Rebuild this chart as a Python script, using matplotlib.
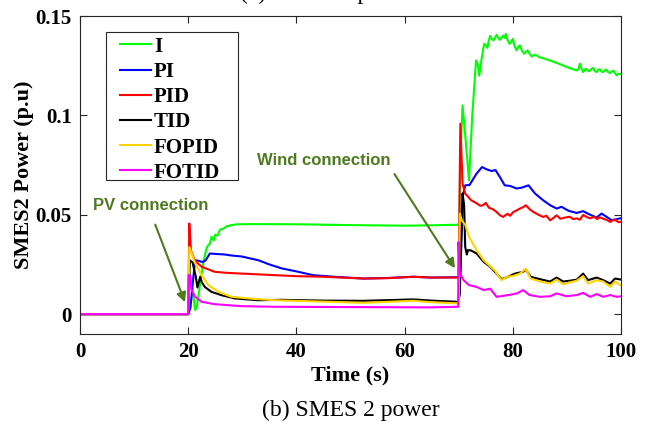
import numpy as np
import matplotlib.pyplot as plt
from matplotlib.patches import Rectangle

# SMES 2 power response for each controller (time in s, power in p.u)
t_i = [0, 20.0, 20.3, 20.8, 21.3, 21.6, 22.2, 22.8, 23.2, 23.5, 24.0, 24.3, 24.7, 25.0, 25.4, 25.9,
       26.5, 27.1, 28.0, 29.0, 32.0, 40, 50, 60, 65, 70.1, 70.4, 70.7, 71.2, 71.9, 72.5, 73.2, 73.5,
       73.8, 74.2, 74.7, 75.0, 75.3, 75.5, 75.8, 76.1, 76.4, 76.7, 77.0, 77.3, 77.6, 77.9, 78.2,
       78.5, 78.7, 79.0, 79.4, 79.7, 80.0, 80.3, 80.7, 81.0, 81.3, 81.7, 82.1, 82.4, 82.7, 83.1,
       83.5, 84.0, 84.4, 84.9, 85.3, 86.9, 88.5, 90.0, 91.8, 92.1, 92.4, 92.7, 93.0, 93.5, 94.0,
       94.3, 94.6, 94.9, 95.2, 95.5, 95.8, 96.1, 96.4, 96.7, 97.0, 97.3, 97.6, 98.0, 98.3, 98.6,
       98.9, 99.2, 99.5, 99.8, 100]
p_i = [0, 0, 0.02, 0.012, 0.002, 0.004, 0.015, 0.026, 0.031, 0.034, 0.0355, 0.039, 0.037, 0.040,
       0.0395, 0.0426, 0.043, 0.0442, 0.0448, 0.0452, 0.0453, 0.0452, 0.0448, 0.0445, 0.0447, 0.045,
       0.085, 0.105, 0.09, 0.0673, 0.10, 0.1276, 0.126, 0.120, 0.128, 0.136, 0.1355, 0.134, 0.137,
       0.140, 0.1385, 0.1377, 0.139, 0.1405, 0.139, 0.138, 0.139, 0.1402, 0.139, 0.141, 0.138,
       0.136, 0.137, 0.1385, 0.135, 0.1327, 0.1345, 0.1352, 0.1325, 0.1310, 0.132, 0.1327, 0.131,
       0.1296, 0.1305, 0.1302, 0.1292, 0.1290, 0.1276, 0.126, 0.1243, 0.1226, 0.1232, 0.126, 0.1235,
       0.1218, 0.1235, 0.1222, 0.1226, 0.1236, 0.1238, 0.1222, 0.1218, 0.1230, 0.1232, 0.1220,
       0.1218, 0.1228, 0.1230, 0.1218, 0.1213, 0.1222, 0.1225, 0.1212, 0.1201, 0.1210, 0.1209,
       0.121]

t_pi = [0, 20.0, 20.4, 21.0, 21.3, 22.0, 22.6, 23.2, 24.0, 25.0, 26.8, 28.0, 29.9, 31.5, 33.0, 35.0,
        37.3, 40.0, 43.1, 47, 52.4, 57, 61.6, 65, 70.0, 70.3, 70.8, 71.2, 72.0, 73.3, 74.3, 75.2,
        76.1, 76.8, 77.6, 78.5, 79.5, 80.7, 81.6, 82.9, 84.1, 85.6, 86.9, 88.1, 89.0, 90.3, 91.8,
        93.0, 94.3, 95.5, 96.4, 97.3, 98.3, 99.2, 100]
p_pi = [0, 0, 0.003, 0.02, 0.0271, 0.0268, 0.0262, 0.027, 0.0305, 0.0303, 0.030, 0.0295, 0.029,
        0.028, 0.0271, 0.025, 0.023, 0.0215, 0.0196, 0.0188, 0.0179, 0.0182, 0.0188, 0.0184, 0.0186,
        0.02, 0.06, 0.0648, 0.065, 0.0707, 0.074, 0.0728, 0.0720, 0.0725, 0.069, 0.0648, 0.0645,
        0.0632, 0.0636, 0.0648, 0.0607, 0.0573, 0.0548, 0.0531, 0.054, 0.052, 0.0509, 0.0518, 0.050,
        0.0486, 0.0506, 0.049, 0.0472, 0.0478, 0.0483]

t_pid = [0, 20.0, 20.2, 20.5, 21.2, 22.5, 24.9, 27, 29.9, 33, 36, 40, 45, 52.4, 57, 61.6, 65, 70.0,
         70.15, 70.3, 70.7, 71.2, 72.3, 73.4, 74.0, 74.5, 75.0, 75.6, 76.3, 77.0, 77.6, 78.2, 79.0,
         79.5, 80.1, 80.7, 81.3, 81.9, 82.4, 83.1, 83.8, 84.6, 85.6, 86.2, 86.9, 87.5, 88.1, 88.8,
         89.5, 90.5, 91.2, 91.8, 92.4, 93.0, 93.7, 94.3, 95.0, 95.6, 96.0, 96.7, 97.3, 98.0, 98.6,
         99.0, 99.6, 100]
p_pid = [0, 0, 0.0456, 0.032, 0.027, 0.0238, 0.0213, 0.0208, 0.0204, 0.0200, 0.0196, 0.0191,
         0.0188, 0.0179, 0.0181, 0.0188, 0.0184, 0.0184, 0.06, 0.0958, 0.0657, 0.0607, 0.0573,
         0.0556, 0.0545, 0.0548, 0.056, 0.0535, 0.0528, 0.0514, 0.0498, 0.0489, 0.0505, 0.0495,
         0.0514, 0.0522, 0.0531, 0.0538, 0.0548, 0.0528, 0.0514, 0.0502, 0.0489, 0.0495, 0.0472,
         0.0484, 0.0497, 0.0480, 0.0485, 0.049, 0.0478, 0.0482, 0.0475, 0.0499, 0.0488, 0.0482,
         0.049, 0.0478, 0.0488, 0.0480, 0.0475, 0.0464, 0.0475, 0.0472, 0.0462, 0.0465]

t_tid = [0, 20.0, 20.3, 20.8, 21.4, 21.7, 22.2, 22.5, 23.1, 24.3, 26.2, 28.6, 32.9, 37.3, 45, 52.4,
         61.6, 65, 69.9, 70.2, 70.5, 70.7, 71.0, 71.2, 71.5, 71.7, 72.3, 73.3, 74.6, 75.8, 77.0,
         77.9, 79.1, 80.4, 81.9, 82.4, 83.3, 85.0, 86.9, 88.1, 89.3, 90.5, 91.8, 93.0, 93.9, 95.5,
         96.7, 98.0, 98.9, 100]
p_tid = [0, 0, 0.0271, 0.026, 0.0188, 0.0134, 0.0188, 0.0161, 0.0136, 0.0112, 0.0095, 0.0079,
         0.0070, 0.0072, 0.0068, 0.0067, 0.0074, 0.0068, 0.0062, 0.01, 0.045, 0.0607, 0.055, 0.0338,
         0.030, 0.0322, 0.032, 0.0305, 0.0263, 0.0238, 0.0204, 0.0176, 0.0188, 0.0204, 0.0213,
         0.0224, 0.0188, 0.0176, 0.0164, 0.0184, 0.0164, 0.0168, 0.0173, 0.0204, 0.0171, 0.0184,
         0.0171, 0.0154, 0.0179, 0.0174]

t_fopid = [0, 20.0, 20.2, 21.3, 22.5, 23.7, 25.6, 28.0, 32, 36, 45, 52.4, 61.6, 65, 70.0, 70.2,
           70.6, 71.2, 71.9, 73.3, 74.6, 75.8, 76.7, 77.9, 78.9, 80.1, 81.3, 82.4, 83.3, 85.0,
           86.9, 88.1, 89.3, 90.5, 91.8, 93.0, 93.9, 95.5, 96.7, 98.0, 98.9, 100]
p_fopid = [0, 0, 0.0338, 0.0255, 0.0196, 0.0146, 0.0112, 0.0087, 0.0077, 0.0070, 0.0063, 0.0057,
           0.0067, 0.0060, 0.0054, 0.0506, 0.047, 0.045, 0.0389, 0.0322, 0.0271, 0.0241, 0.0218,
           0.0171, 0.0188, 0.0192, 0.0204, 0.0228, 0.0179, 0.0164, 0.0154, 0.0174, 0.0150, 0.0160,
           0.0168, 0.0191, 0.0154, 0.0171, 0.0164, 0.0137, 0.0164, 0.0144]

t_fotid = [0, 20.0, 20.05, 20.3, 20.6, 21.3, 22.5, 24.9, 29.9, 36, 45, 55, 65, 69.9, 69.95, 70.2,
           70.9, 71.9, 73.3, 74.6, 75.8, 77.0, 78.2, 79.4, 80.7, 81.9, 83.1, 85.0, 86.9, 88.1,
           89.9, 91.8, 93.0, 94.3, 95.5, 96.7, 98.0, 99.2, 100]
p_fotid = [0, 0, 0.0196, 0.0196, 0.0121, 0.0087, 0.0062, 0.005, 0.004, 0.0037, 0.0036, 0.0035,
           0.0034, 0.0037, 0.0363, 0.0204, 0.0171, 0.0146, 0.0137, 0.0121, 0.0128, 0.0087, 0.0092,
           0.0097, 0.0104, 0.0121, 0.0096, 0.0087, 0.0090, 0.0104, 0.0090, 0.0096, 0.0107, 0.0087,
           0.0101, 0.0087, 0.0096, 0.0087, 0.0090]

names = ['I', 'PI', 'PID', 'TID', 'FOPID', 'FOTID']
colors = ['#00ff00', '#0000ff', '#ff0000', '#000000', '#ffd200', '#ff00ff']
series = [(t_i, p_i), (t_pi, p_pi), (t_pid, p_pid), (t_tid, p_tid), (t_fopid, p_fopid),
          (t_fotid, p_fotid)]

xticks = [0, 20, 40, 60, 80, 100]
yticks = [0, 0.05, 0.1, 0.15]
ytick_labels = ['0', '0.05', '0.1', '0.15']

serif = 'Liberation Serif'
olive = '#4f7a1e'
edge = '#262626'

fig = plt.figure(figsize=(6.49, 4.34), dpi=100)
ax = fig.add_axes([0.1233, 0.2304, 0.8336, 0.7327])

for (t, p), name, c in zip(series, names, colors):
    ax.plot(t, p, color=c, lw=1.5, label=name)

ax.set_xlim(0, 100)
ax.set_ylim(-0.01, 0.15)
ax.set_xticks(xticks)
ax.set_yticks(yticks)
ax.set_yticklabels(ytick_labels)
ax.tick_params(direction='in', length=5, width=0.8, top=True, right=True, color=edge,
               labelsize=15, pad=6)
for lab in ax.get_xticklabels() + ax.get_yticklabels():
    lab.set_fontfamily(serif)
    lab.set_fontweight('bold')
for s in ax.spines.values():
    s.set_color(edge)
    s.set_linewidth(0.8)

ax.set_xlabel('Time (s)', fontsize=16, fontweight='bold', family=serif, labelpad=2)
ax.set_ylabel('SMES2 Power (p.u)', fontsize=16, fontweight='bold', family=serif, labelpad=1)

# legend entries without frame, box drawn separately for wider side margins
ax.legend(loc='upper left', bbox_to_anchor=(0.073, 0.935), frameon=False,
          handlelength=1.5, handletextpad=0.15, labelspacing=0.25, borderpad=0,
          borderaxespad=0, prop={'family': serif, 'weight': 'bold', 'size': 15})
ax.add_patch(Rectangle((0.048, 0.484), 0.244, 0.466, transform=ax.transAxes, fill=False,
                       edgecolor=edge, lw=0.8, zorder=5))

ax.annotate('PV connection', xy=(19.4, 0.006), xytext=(2.4, 0.0548),
            fontsize=12, fontweight='bold', family='Liberation Sans', color=olive,
            va='center', ha='left',
            arrowprops=dict(arrowstyle='-|>', color=olive, lw=1.5, mutation_scale=14,
                            shrinkA=7, shrinkB=0, relpos=(0.5, 0.0)))
ax.annotate('Wind connection', xy=(69.3, 0.0231), xytext=(32.7, 0.0774),
            fontsize=12, fontweight='bold', family='Liberation Sans', color=olive,
            va='center', ha='left',
            arrowprops=dict(arrowstyle='-|>', color=olive, lw=1.5, mutation_scale=14,
                            shrinkA=3, shrinkB=0, relpos=(1.0, 0.0)))

fig.text(0.54, 0.055, '(b) SMES 2 power', fontsize=17, family=serif, ha='center', va='center')
fig.text(0.505, 1.003, '(a) SMES 1 power', fontsize=17, family=serif, ha='center',
         va='baseline')

fig.savefig('out.png', dpi=100)
